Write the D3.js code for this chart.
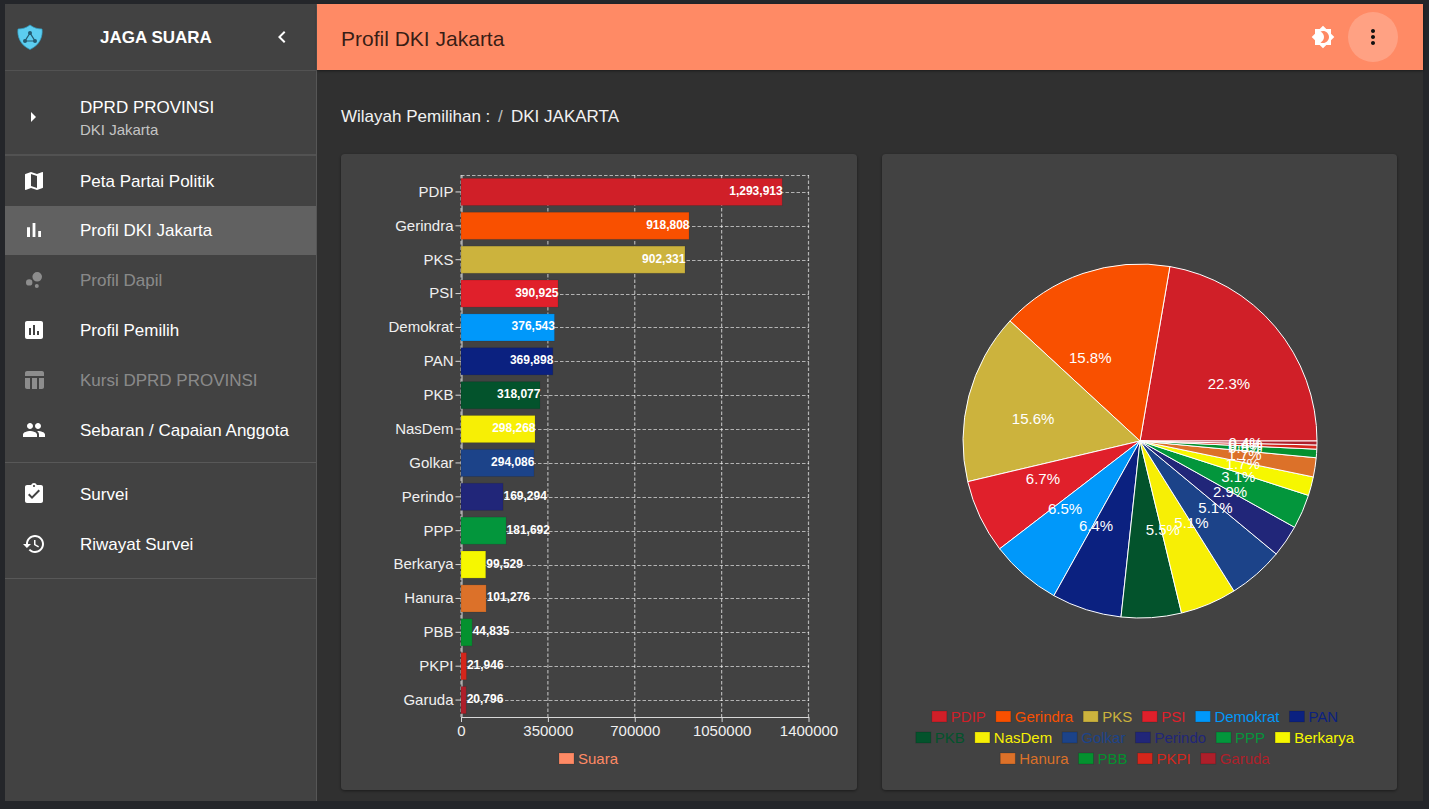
<!DOCTYPE html>
<html>
<head>
<meta charset="utf-8">
<script src="https://cdn.jsdelivr.net/npm/d3@7"></script>
<style>
    html, body { margin: 0; padding: 0; background: #24262a; overflow: hidden; }
    svg { display: block; }
    text { font-family: "Liberation Sans", Arial, sans-serif; }
</style>
</head>
<body>
<div id="page"></div>
<script>
// chart data
const parties = ['PDIP', 'Gerindra', 'PKS', 'PSI', 'Demokrat', 'PAN', 'PKB', 'NasDem', 'Golkar', 'Perindo', 'PPP', 'Berkarya', 'Hanura', 'PBB', 'PKPI', 'Garuda'];
const votes = [1293913, 918808, 902331, 390925, 376543, 369898, 318077, 298268, 294086, 169294, 181692, 99529, 101276, 44835, 21946, 20796];
const partyColors = ['#d01f28', '#f95000', '#ccb33d', '#e0202b', '#0098fa', '#0b2180', '#03532c', '#f7ef05', '#1c4389', '#212679', '#03963c', '#f6f700', '#dc7129', '#04912f', '#d5261b', '#ae1f2a'];
const xTicks = [0, 350000, 700000, 1050000, 1400000];
const legendRows = [
    ['PDIP', 'Gerindra', 'PKS', 'PSI', 'Demokrat', 'PAN'],
    ['PKB', 'NasDem', 'Golkar', 'Perindo', 'PPP', 'Berkarya'],
    ['Hanura', 'PBB', 'PKPI', 'Garuda']
];

// sidebar menu
const menu = [
    { label: 'Peta Partai Politik', y: 181, on: true, icon: 'M20.5 3l-.16.03L15 5.1 9 3 3.36 4.9c-.21.07-.36.25-.36.48V20.5c0 .28.22.5.5.5l.16-.03L9 18.9l6 2.1 5.64-1.9c.21-.07.36-.25.36-.48V3.5c0-.28-.22-.5-.5-.5zM15 19l-6-2.11V5l6 2.11V19z' },
    { label: 'Profil DKI Jakarta', y: 230, on: true, icon: 'M5 9.2h3V19H5zM10.6 5h2.8v14h-2.8zm5.6 8H19v6h-2.8z' },
    { label: 'Profil Dapil', y: 280, on: false, icon: 'M7.2 11.2a3.2 3.2 0 1 0 0 6.4a3.2 3.2 0 1 0 0-6.4zM14.8 16a2 2 0 1 0 0 4a2 2 0 1 0 0-4zM15.2 4a4.8 4.8 0 1 0 0 9.6a4.8 4.8 0 1 0 0-9.6z' },
    { label: 'Profil Pemilih', y: 330, on: true, icon: 'M19 3H5c-1.1 0-2 .9-2 2v14c0 1.1.9 2 2 2h14c1.1 0 2-.9 2-2V5c0-1.1-.9-2-2-2zM9 17H7v-7h2v7zm4 0h-2V7h2v10zm4 0h-2v-4h2v4z' },
    { label: 'Kursi DPRD PROVINSI', y: 380, on: false, icon: 'M10 10.02h5V21h-5zM17 21h3c1.1 0 2-.9 2-2v-9h-5v11zm3-18H5c-1.1 0-2 .9-2 2v3h19V5c0-1.1-.9-2-2-2zM3 19c0 1.1.9 2 2 2h3V10H3v9z' },
    { label: 'Sebaran / Capaian Anggota', y: 430, on: true, icon: 'M16 11c1.66 0 2.99-1.34 2.99-3S17.66 5 16 5c-1.66 0-3 1.34-3 3s1.34 3 3 3zm-8 0c1.66 0 2.99-1.34 2.99-3S9.66 5 8 5C6.34 5 5 6.34 5 8s1.34 3 3 3zm0 2c-2.33 0-7 1.17-7 3.5V19h14v-2.5c0-2.33-4.67-3.5-7-3.5zm8 0c-.29 0-.62.02-.97.05 1.16.84 1.97 1.97 1.97 3.45V19h6v-2.5c0-2.33-4.67-3.5-7-3.5z' },
    { label: 'Survei', y: 494, on: true, icon: 'M19 3h-4.18C14.4 1.84 13.3 1 12 1c-1.3 0-2.4.84-2.82 2H5c-1.1 0-2 .9-2 2v14c0 1.1.9 2 2 2h14c1.1 0 2-.9 2-2V5c0-1.1-.9-2-2-2zm-7 0c.55 0 1 .45 1 1s-.45 1-1 1-1-.45-1-1 .45-1 1-1zm-2 14l-4-4 1.41-1.41L10 14.17l6.59-6.59L18 9l-8 8z' },
    { label: 'Riwayat Survei', y: 544, on: true, icon: 'M13 3c-4.97 0-9 4.03-9 9H1l3.89 3.89.07.14L9 12H6c0-3.87 3.13-7 7-7s7 3.13 7 7-3.13 7-7 7c-1.93 0-3.68-.79-4.94-2.06l-1.42 1.42C8.27 19.99 10.51 21 13 21c4.97 0 9-4.03 9-9s-4.03-9-9-9zm-1 5v5l4.28 2.54.72-1.21-3.5-2.08V8H12z' }
];

let svg = d3.select('#page').append('svg')
    .attr('width', 1429)
    .attr('height', 809)

let defs = svg.append('defs')
let shadow = defs.append('filter').attr('id', 'shadow').attr('x', '-5%').attr('y', '-5%').attr('width', '110%').attr('height', '110%')
shadow.append('feDropShadow').attr('dx', 0).attr('dy', 1).attr('stdDeviation', 1.5).attr('flood-color', '#000').attr('flood-opacity', 0.45)

function box(x, y, w, h, fill) {
    return svg.append('rect').attr('x', x).attr('y', y).attr('width', w).attr('height', h).attr('fill', fill)
}

function label(parent, x, y, str, size, fill) {
    return parent.append('text')
        .attr('x', x)
        .attr('y', y)
        .attr('dominant-baseline', 'central')
        .attr('font-size', size)
        .attr('fill', fill)
        .text(str)
}

function icon(path, x, y, size, fill) {
    svg.append('path')
        .attr('d', path)
        .attr('fill', fill)
        .attr('transform', 'translate(' + (x - size / 2) + ',' + (y - size / 2) + ') scale(' + size / 24 + ')')
}

// page frame
box(0, 0, 1429, 809, '#24262a')
box(317, 4, 1106, 797, '#303030')

// SIDEBAR
box(5, 4, 311, 797, '#424242')
box(316, 4, 1, 797, '#565656')
box(5, 206, 311, 49, '#616161')
box(5, 70, 311, 1, '#525252')
box(5, 154, 311, 2, '#525252')
box(5, 462, 311, 1, '#585858')
box(5, 578, 311, 1, '#585858')

// logo shield
svg.append('path')
    .attr('d', 'M30 25 C26 28 22 29 18 29 C17 36 20 45 30 49.5 C40 45 43 36 42 29 C38 29 34 28 30 25 Z')
    .attr('fill', '#5ccdf0')
    .attr('stroke', '#2f9fc4')
    .attr('stroke-width', 0.7)
svg.append('path')
    .attr('d', 'M30 33 L25 41 L35 41 Z')
    .attr('fill', 'none')
    .attr('stroke', '#245a70')
    .attr('stroke-width', 1.2)
svg.selectAll('circle.logo')
    .data([[30, 33], [25, 41], [35, 41]])
    .join('circle')
    .attr('class', 'logo')
    .attr('cx', function (d) { return d[0] })
    .attr('cy', function (d) { return d[1] })
    .attr('r', 2)
    .attr('fill', '#245a70')

label(svg, 156, 37, 'JAGA SUARA', 17, '#fff').attr('font-weight', 'bold').attr('text-anchor', 'middle')
icon('M15.41 7.41L14 6l-6 6 6 6 1.41-1.41L10.83 12z', 282, 37, 24, '#fff')

icon('M10 17l5-5-5-5v10z', 33, 117, 24, '#fff')
label(svg, 80, 107, 'DPRD PROVINSI', 17, '#fff')
label(svg, 80, 129, 'DKI Jakarta', 15, 'rgba(255,255,255,0.7)')

menu.forEach(function (m) {
    let color = m.on ? '#fff' : 'rgba(255,255,255,0.4)'
    icon(m.icon, 34, m.y, 24, color)
    label(svg, 80, m.y, m.label, 17, color)
})

// HEADER
box(317, 4, 1106, 66, '#ff8a65').attr('filter', 'url(#shadow)')
label(svg, 341, 38, 'Profil DKI Jakarta', 21, 'rgba(0,0,0,0.8)')
icon('M20 8.69V4h-4.69L12 .69 8.69 4H4v4.69L.69 12 4 15.31V20h4.69L12 23.31 15.31 20H20v-4.69L23.31 12 20 8.69zM12 18c-.89 0-1.74-.2-2.5-.55C11.56 16.5 13 14.42 13 12s-1.44-4.5-3.5-5.45C10.26 6.2 11.11 6 12 6c3.31 0 6 2.69 6 6s-2.69 6-6 6z', 1323, 37, 24, '#fff')
svg.append('circle').attr('cx', 1373).attr('cy', 37).attr('r', 25).attr('fill', 'rgba(255,255,255,0.2)')
icon('M12 8c1.1 0 2-.9 2-2s-.9-2-2-2-2 .9-2 2 .9 2 2 2zm0 2c-1.1 0-2 .9-2 2s.9 2 2 2 2-.9 2-2-.9-2-2-2zm0 6c-1.1 0-2 .9-2 2s.9 2 2 2 2-.9 2-2-.9-2-2-2z', 1373, 37, 24, '#111')

// breadcrumb
label(svg, 341, 116, 'Wilayah Pemilihan :', 17, '#f2f2f2')
label(svg, 498, 116, '/', 17, 'rgba(255,255,255,0.7)')
label(svg, 511, 116, 'DKI JAKARTA', 17, '#f2f2f2')

// cards
box(341, 154, 516, 636, '#424242').attr('rx', 4).attr('filter', 'url(#shadow)')
box(882, 154, 515, 636, '#424242').attr('rx', 4).attr('filter', 'url(#shadow)')

// BAR CHART
let x = d3.scaleLinear().domain([0, 1400000]).range([461, 808.5])
let y = d3.scaleBand().domain(parties).range([175, 717]).paddingInner(0.2).paddingOuter(0.1)
let gridStroke = 'rgba(255,255,255,0.6)'

let bars = svg.append('g')

bars.append('g').selectAll('line')
    .data(xTicks)
    .join('line')
    .attr('x1', function (d) { return x(d) })
    .attr('x2', function (d) { return x(d) })
    .attr('y1', 175)
    .attr('y2', 717)
    .attr('stroke', gridStroke)
    .attr('stroke-width', 1.2)
    .attr('stroke-dasharray', '3.5 2')

bars.append('g').selectAll('line')
    .data(parties)
    .join('line')
    .attr('x1', 461)
    .attr('x2', 809)
    .attr('y1', function (d) { return Math.round(y(d) + y.bandwidth() / 2) + 0.5 })
    .attr('y2', function (d) { return Math.round(y(d) + y.bandwidth() / 2) + 0.5 })
    .attr('stroke', gridStroke)
    .attr('stroke-width', 1.2)
    .attr('stroke-dasharray', '3.5 2')

bars.append('line')
    .attr('x1', 461).attr('x2', 809)
    .attr('y1', 175.5).attr('y2', 175.5)
    .attr('stroke', gridStroke)
    .attr('stroke-width', 1.2)
    .attr('stroke-dasharray', '3.5 2')

let yAxis = bars.append('g')
    .attr('transform', 'translate(461.5,0)')
    .call(d3.axisLeft(y).tickSizeInner(6).tickSizeOuter(0).tickPadding(2))
let xAxis = bars.append('g')
    .attr('transform', 'translate(0,717)')
    .call(d3.axisBottom(x).tickValues(xTicks).tickFormat(function (d) { return String(d) }).tickSizeInner(5).tickSizeOuter(0).tickPadding(3))

svg.selectAll('.domain').attr('stroke', '#d8d8d8').attr('stroke-width', 1)
svg.selectAll('.tick line').attr('stroke', '#d8d8d8')
svg.selectAll('.tick text')
    .attr('font-family', '"Liberation Sans", Arial, sans-serif')
    .attr('font-size', 15)
    .attr('fill', '#f0f0f0')

bars.append('g').selectAll('rect')
    .data(parties)
    .join('rect')
    .attr('x', 461)
    .attr('y', function (d) { return y(d) })
    .attr('width', function (d, i) { return x(votes[i]) - 461 })
    .attr('height', y.bandwidth())
    .attr('fill', function (d, i) { return partyColors[i] })
    .attr('stroke', 'rgba(0,0,0,0.1)')

bars.append('g').selectAll('text')
    .data(parties)
    .join('text')
    .attr('x', function (d, i) { return x(votes[i]) + 0.5 })
    .attr('y', function (d) { return y(d) + y.bandwidth() / 2 - 1 })
    .attr('text-anchor', function (d, i) { return votes[i] < 200000 ? 'start' : 'end' })
    .attr('dominant-baseline', 'central')
    .attr('font-size', 12)
    .attr('font-weight', 'bold')
    .attr('fill', '#fff')
    .text(function (d, i) { return d3.format(',')(votes[i]) })

box(559, 753, 15, 11, '#ff8a65').attr('stroke', 'rgba(0,0,0,0.15)')
label(svg, 578, 758, 'Suara', 15, '#ff8a65')

// PIE CHART
let pie = d3.pie().sort(null).startAngle(Math.PI / 2).endAngle(Math.PI / 2 - 2 * Math.PI)
let slices = pie(votes)
let arc = d3.arc().innerRadius(0).outerRadius(177)
let total = d3.sum(votes)

let pieGroup = svg.append('g').attr('transform', 'translate(1140,441)')

pieGroup.selectAll('path')
    .data(slices)
    .join('path')
    .attr('d', arc)
    .attr('fill', function (d, i) { return partyColors[i] })
    .attr('stroke', '#fff')
    .attr('stroke-width', 1)

pieGroup.selectAll('text')
    .data(slices)
    .join('text')
    .attr('x', function (d) { return arc.centroid(d)[0] })
    .attr('y', function (d) { return arc.centroid(d)[1] })
    .attr('text-anchor', function (d) { return arc.centroid(d)[0] >= 0 ? 'start' : 'end' })
    .attr('dominant-baseline', 'central')
    .attr('font-size', 15)
    .attr('fill', '#fff')
    .text(function (d) { return (d.value / total * 100).toFixed(1) + '%' })

// pie legend, one centred row at a time
legendRows.forEach(function (row, r) {
    let g = svg.append('g')
    let cursor = 0
    row.forEach(function (name) {
        let color = partyColors[parties.indexOf(name)]
        g.append('rect')
            .attr('x', cursor)
            .attr('y', -5)
            .attr('width', 15)
            .attr('height', 11)
            .attr('fill', color)
            .attr('stroke', 'rgba(0,0,0,0.15)')
        let t = label(g, cursor + 19, 0, name, 15, color)
        cursor += 19 + t.node().getComputedTextLength() + 10
    })
    g.attr('transform', 'translate(' + (1135 - (cursor - 10) / 2) + ',' + (716 + r * 21) + ')')
})
</script>
</body>
</html>
